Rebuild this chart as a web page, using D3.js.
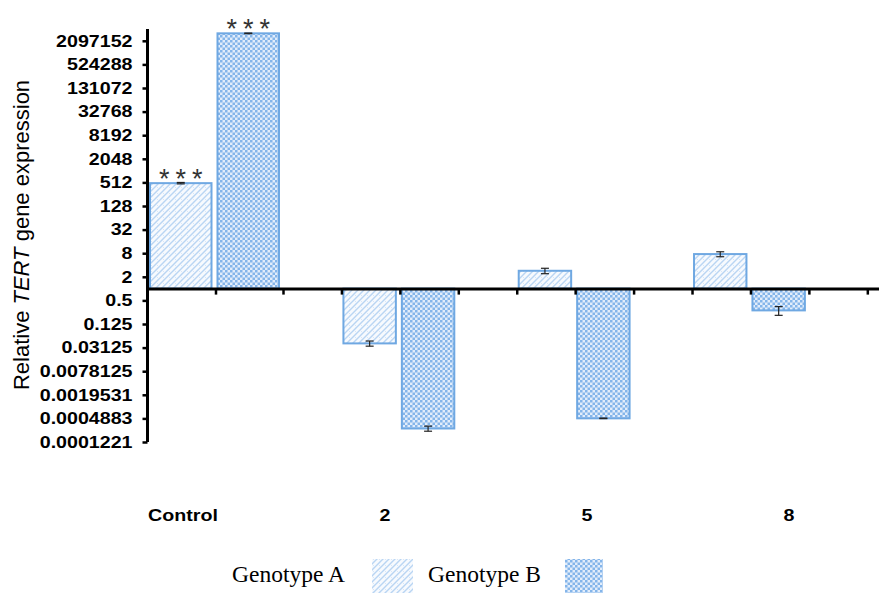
<!DOCTYPE html>
<html>
<head>
<meta charset="utf-8">
<script src="https://cdn.jsdelivr.net/npm/d3@7"></script>
<style>
  body { margin: 0; background: #fff; }
  svg { display: block; }
</style>
</head>
<body>
<div id="chart"></div>
<script>
// values (log2 scale, baseline at 1)
var categories = ['Control', '2', '5', '8']
var genotypeA = [490, 0.040, 2.85, 7.6]
var genotypeB = [3250000, 0.00027, 0.00049, 0.278]
var errA = [20, 0.006, 0.45, 1.1]
var errB = [60000, 0.00004, 0.000008, 0.07]
var starsA = ['***', '', '', '']
var starsB = ['***', '', '', '']
var yTickLabels = ['2097152', '524288', '131072', '32768', '8192', '2048', '512', '128', '32', '8', '2',
  '0.5', '0.125', '0.03125', '0.0078125', '0.0019531', '0.0004883', '0.0001221']
var seriesNames = ['Genotype A', 'Genotype B']

var width = 879
var height = 596
var stretch = 1.19   // the original figure is a bit wider than tall

var svg = d3.select('#chart').append('svg')
  .attr('width', width)
  .attr('height', height)

// fill patterns
var defs = svg.append('defs')
var pa = defs.append('pattern')
  .attr('id', 'patA')
  .attr('patternUnits', 'userSpaceOnUse')
  .attr('width', 6).attr('height', 6)
pa.append('rect').attr('width', 6).attr('height', 6).attr('fill', '#f7fafe')
pa.append('path').attr('d', 'M0,6 L6,0 M-1,1 L1,-1 M5,7 L7,5')
  .attr('stroke', '#b9d5f3').attr('stroke-width', 1.4)
pa.append('path').attr('d', 'M0,0 L3,3')
  .attr('stroke', '#d8e7f8').attr('stroke-width', 1)

var pb = defs.append('pattern')
  .attr('id', 'patB')
  .attr('patternUnits', 'userSpaceOnUse')
  .attr('width', 5).attr('height', 5)
pb.append('rect').attr('width', 5).attr('height', 5).attr('fill', '#e2edfb')
pb.append('rect').attr('width', 2.5).attr('height', 2.5).attr('fill', '#84b5ea')
pb.append('rect').attr('x', 2.5).attr('y', 2.5).attr('width', 2.5).attr('height', 2.5).attr('fill', '#84b5ea')

// scales: bars sit in slots along the axis, two per category plus a blank one
var x = d3.scaleLinear()
  .domain([0, 2, 12.2])
  .range([148, 283, 879])

var y = d3.scaleLog().base(2)
  .domain([Math.pow(2, -13), Math.pow(2, 22)])
  .range([442, 29])

var labelX = d3.scalePoint()
  .domain(categories)
  .range([183, 789])

var bars = []
categories.forEach(function (c, i) {
  bars.push({ slot: 3 * i, value: genotypeA[i], err: errA[i], stars: starsA[i], fill: 'url(#patA)' })
  bars.push({ slot: 3 * i + 1, value: genotypeB[i], err: errB[i], stars: starsB[i], fill: 'url(#patB)' })
})

var base = y(1)

svg.selectAll('.bar')
  .data(bars)
  .enter()
  .append('rect')
  .attr('class', 'bar')
  .attr('x', function (d) { return x(d.slot) + 2 })
  .attr('width', function (d) { return x(d.slot + 1) - x(d.slot) - 6 })
  .attr('y', function (d) { return Math.min(y(d.value), base) })
  .attr('height', function (d) { return Math.abs(y(d.value) - base) })
  .attr('fill', function (d) { return d.fill })
  .attr('stroke', '#6fa8e2')
  .attr('stroke-width', 2)

// error bars
var eb = svg.selectAll('.err')
  .data(bars)
  .enter()
  .append('g')
  .attr('class', 'err')
  .attr('stroke', '#222')
  .attr('stroke-width', 1.2)
function cx(d) { return (x(d.slot) + x(d.slot + 1)) / 2 - 1 }
eb.append('line')
  .attr('x1', cx).attr('x2', cx)
  .attr('y1', function (d) { return y(d.value + d.err) })
  .attr('y2', function (d) { return y(Math.max(d.value - d.err, 1e-9)) })
eb.append('line')
  .attr('x1', function (d) { return cx(d) - 4 }).attr('x2', function (d) { return cx(d) + 4 })
  .attr('y1', function (d) { return y(d.value + d.err) })
  .attr('y2', function (d) { return y(d.value + d.err) })
eb.append('line')
  .attr('x1', function (d) { return cx(d) - 4 }).attr('x2', function (d) { return cx(d) + 4 })
  .attr('y1', function (d) { return y(Math.max(d.value - d.err, 1e-9)) })
  .attr('y2', function (d) { return y(Math.max(d.value - d.err, 1e-9)) })

// significance stars
svg.selectAll('.stars')
  .data(bars.filter(function (d) { return d.stars }))
  .enter()
  .append('text')
  .attr('class', 'stars')
  .attr('x', function (d) { return cx(d) + 3 })
  .attr('y', function (d) { return y(d.value) + 5 })
  .attr('text-anchor', 'middle')
  .style('font-family', 'Liberation Sans, Arial, sans-serif')
  .style('font-size', '27px')
  .style('letter-spacing', '6px')
  .style('fill', '#333')
  .text(function (d) { return d.stars })

// y axis
var yAxis = svg.append('g')
  .attr('transform', 'translate(147.5,0)')
  .call(d3.axisLeft(y)
    .tickValues(yTickLabels.map(Number))
    .tickFormat(function (d, i) { return yTickLabels[i] })
    .tickSize(5)
    .tickSizeOuter(0))
yAxis.select('.domain')
  .attr('d', 'M0,29V' + y(Number(yTickLabels[yTickLabels.length - 1])))
  .attr('stroke', '#000').attr('stroke-width', 3)
yAxis.selectAll('.tick line').attr('stroke', '#000').attr('stroke-width', 2.5)
yAxis.selectAll('.tick text')
  .attr('x', -15 / stretch)
  .attr('transform', 'scale(' + stretch + ',1)')
  .style('font-family', 'Liberation Sans, Arial, sans-serif')
  .style('font-size', '16.5px')
  .style('font-weight', 'bold')
  .style('fill', '#000')

// x axis through 1
var xAxis = svg.append('g')
  .attr('transform', 'translate(0,' + base + ')')
  .call(d3.axisBottom(x)
    .tickValues(d3.range(1, 13))
    .tickFormat('')
    .tickSize(6)
    .tickSizeOuter(0))
xAxis.select('.domain').attr('stroke', '#000').attr('stroke-width', 3)
xAxis.selectAll('.tick line').attr('stroke', '#000').attr('stroke-width', 2.5)

// category labels
svg.selectAll('.cat')
  .data(categories)
  .enter()
  .append('text')
  .attr('class', 'cat')
  .attr('transform', function (d) { return 'translate(' + labelX(d) + ',521) scale(' + stretch + ',1)' })
  .attr('text-anchor', 'middle')
  .style('font-family', 'Liberation Sans, Arial, sans-serif')
  .style('font-size', '16.5px')
  .style('font-weight', 'bold')
  .text(function (d) { return d })

// y label
var yl = svg.append('text')
  .attr('transform', 'translate(29,235) rotate(-90)')
  .attr('text-anchor', 'middle')
  .style('font-family', 'Liberation Sans, Arial, sans-serif')
  .style('font-size', '22px')
  .style('fill', '#000')
yl.append('tspan').text('Relative ')
yl.append('tspan').style('font-style', 'italic').text('TERT')
yl.append('tspan').text(' gene expression')

// legend
var legend = svg.append('g').attr('class', 'legend')
var legX = [232, 428]
var swX = [372, 565]
var swW = [41, 38]
seriesNames.forEach(function (name, i) {
  legend.append('text')
    .attr('x', legX[i])
    .attr('y', 582)
    .style('font-family', 'Liberation Serif, Times New Roman, serif')
    .style('font-size', '23.5px')
    .style('fill', '#000')
    .text(name)
  legend.append('rect')
    .attr('x', swX[i])
    .attr('y', 559)
    .attr('width', swW[i])
    .attr('height', 34)
    .attr('fill', i === 0 ? 'url(#patA)' : 'url(#patB)')
})
</script>
</body>
</html>
